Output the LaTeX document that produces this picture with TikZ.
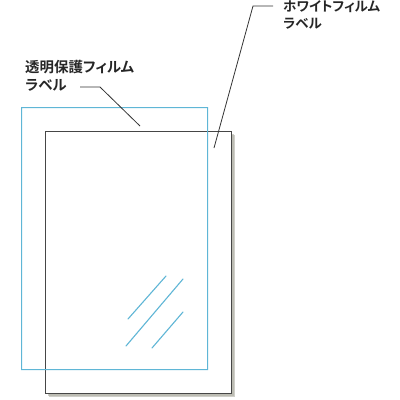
\documentclass[tikz,border=0pt]{standalone}
\usepackage{fontspec}
\newfontfamily\jp[RawFeature=+palt]{Noto Sans CJK JP Bold}
\definecolor{filmblue}{RGB}{95,182,214}
\definecolor{framegray}{RGB}{70,70,70}
\definecolor{shadowgray}{RGB}{175,175,165}
\begin{document}
\begin{tikzpicture}[x=1bp,y=-1bp,
  lbl/.style={anchor=north west,inner sep=0pt,align=left,font=\jp\fontsize{14.5}{18}\selectfont,text=black!85},
  leader/.style={draw=black!80,line width=0.8bp},
  filmline/.style={draw=filmblue,line width=1.1bp,line cap=round},
  filmedge/.style={fill=filmblue,draw=none}]
\useasboundingbox (0,0) rectangle (400,400);
% shadow
\fill[shadowgray,opacity=0.6] (49,135) rectangle (235,397);
\fill[shadowgray,opacity=0.6] (48,134) rectangle (234,396);
% white label
\draw[draw=framegray,fill=white,line width=1bp] (45.5,131.5) rectangle (231.5,393.5);
% transparent film (edges as thin strips)
\path[filmedge,even odd rule] (21,107) rectangle (208.1,370.1) (22.1,108.1) rectangle (207,369);
% reflection lines
\draw[filmline] (128,319) -- (166,276);
\draw[filmline] (126,346) -- (183,279);
\draw[filmline] (152,348) -- (183,312);
% labels
\node[lbl] (t1) at (25,60) {透明保護フィルム\\ラベル};
\node[lbl,font=\jp\fontsize{13.5}{17}\selectfont] (t2) at (283,0.5) {ホワイトフィルム\\ラベル};
\coordinate (a1) at (80,87);
\coordinate (a2) at (100,87);
\coordinate (a3) at (140,126);
\coordinate (b1) at (273,6);
\coordinate (b2) at (253,6);
\coordinate (b3) at (214,148);
\draw[leader] (a1) -- (a2) -- (a3);
\draw[leader] (b1) -- (b2) -- (b3);
\end{tikzpicture}
\end{document}
